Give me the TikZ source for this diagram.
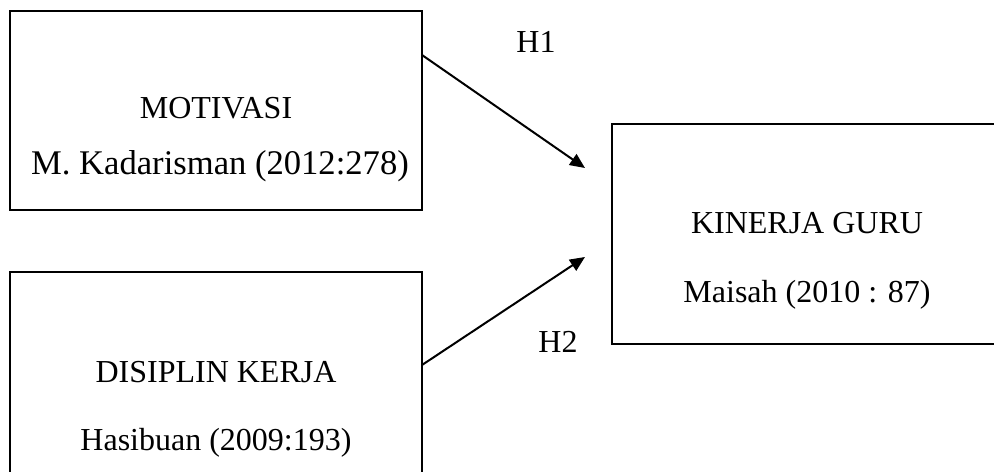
\documentclass[tikz,border=0pt]{standalone}
\usepackage{fontspec}
\setmainfont{Liberation Serif}
\usepackage{tikz}
\usetikzlibrary{arrows.meta}
\usetikzlibrary{positioning}
\tikzset{
  Kotak/.style={draw,line width=1.1pt,inner sep=0pt,outer sep=0pt}, % für Kästen
  Teks/.style={anchor=base,inner sep=0pt}, % für Beschriftung
  Panah/.style={line width=1pt,-{Triangle[length=7.5pt,width=6.5pt]}} % für Pfeile
}

\begin{document}
\begin{tikzpicture}[
x=0.5pt, y=-0.5pt,
font=\fontsize{16}{19}\selectfont
]
\useasboundingbox (0,0) rectangle (994,471);
\clip (0,0) rectangle (994,471);

%Kästen
\node[Kotak, minimum width=206pt, minimum height=99.5pt] (mot) at (216,110.5) {};
\node[Kotak, minimum width=206pt, minimum height=124pt] (dis) at (216,396) {};
\node[Kotak, minimum width=214pt, minimum height=110pt] (kin) at (826,234) {};

%Beschriftung
\node[Teks] (motA) at (216,118) {MOTIVASI};
\node[Teks, font=\fontsize{17.3}{20}\selectfont] (motB) at (220,174) {M. Kadarisman (2012:278)};
\node[Teks] (disA) at (216,382) {DISIPLIN KERJA};
\node[Teks] (disB) at (216,450) {Hasibuan (2009:193)};
\node[Teks] (kinA) at (807,233) {KINERJA GURU};
\node[Teks] (kinB) at (807,302) {Maisah (2010 : 87)};

%Pfeilspitzen
\coordinate (ujung1) at ([xshift=-13.5pt,yshift=33pt]kin.west);
\coordinate (ujung2) at ([xshift=-13.5pt,yshift=-11.5pt]kin.west);

%Pfeile
\draw[Panah] ([yshift=-22pt]mot.north east) -- (ujung1);
\draw[Panah] ([yshift=-46.5pt]dis.north east) -- (ujung2);
\node[Teks] (h1) at (536,52) {H1};
\node[Teks] (h2) at (558,352) {H2};

\end{tikzpicture}
\end{document}
